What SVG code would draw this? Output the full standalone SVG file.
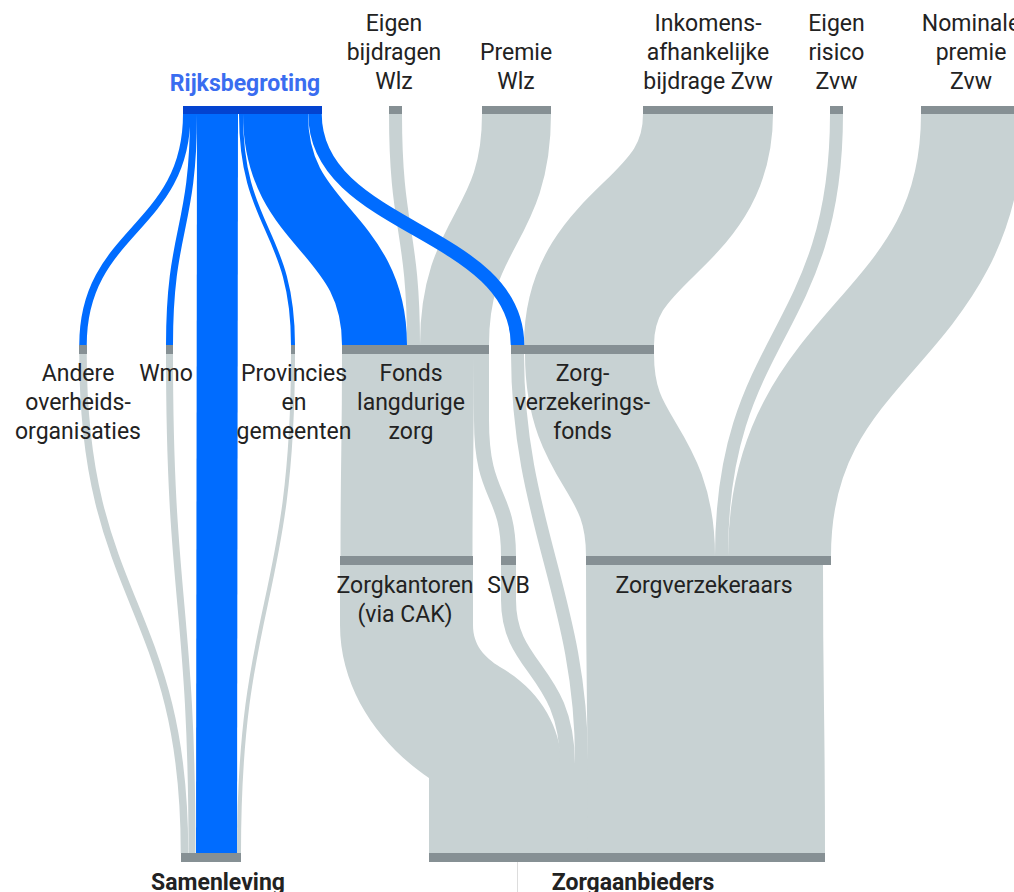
<svg xmlns="http://www.w3.org/2000/svg" width="1014" height="892" viewBox="0 0 1014 892">
<style>
.lk{fill:none;stroke:#c8d2d3}
.lf{fill:#c8d2d3;stroke:none}
.lb{fill:none;stroke:#006cff}
.nd{fill:#869094}
.t{font-family:Roboto,"Liberation Sans",sans-serif;font-size:23px;fill:#222;text-anchor:middle}
.b{font-weight:bold}
</style>
<rect width="1014" height="892" fill="#fff"/>
<g id="links">
<path class="lk" stroke-width="13" d="M395.5 114C395.5 229.5 413.5 229.5 413.5 345"/>
<path class="lk" stroke-width="69" d="M516.5 114C516.5 229.5 454.5 229.5 454.5 345"/>
<path class="lk" stroke-width="130" d="M708 114C708 229.5 589 229.5 589 345"/>
<path class="lk" stroke-width="13" d="M836.5 114C836.5 335 721.5 335 721.5 556"/>
<path class="lk" stroke-width="103" d="M972.5 114C972.5 335 779.5 335 779.5 556"/>
<path class="lk" stroke-width="132" d="M408 354C408 455 406.5 455 406.5 556"/>
<path class="lk" stroke-width="15" d="M481.5 354L481.5 420C481.5 500 508.5 490 508.5 556"/>
<path class="lk" stroke-width="129" d="M589.5 354C589.5 455 650.5 455 650.5 556"/>
<path class="lk" stroke-width="13" d="M517.5 354C517.5 520 581.5 600 581.5 760L581.5 853"/>
<path class="lk" stroke-width="7.5" d="M83 354C83 603.5 184.5 603.5 184.5 853"/>
<path class="lk" stroke-width="7" d="M169.5 354C169.5 603.5 192 603.5 192 853"/>
<path class="lk" stroke-width="4" d="M293 354C293 603.5 239 603.5 239 853"/>
<path class="lf" d="M340 565L340 625C340 690 380 745 429 778L429 853L562 853L562 765C560 725 540 690 500 667C484 657 473 645 473 625L473 565Z"/>
<path class="lk" stroke-width="15" d="M508.5 565L508.5 600C508.5 670 567.5 670 567.5 765L567.5 853"/>
<path class="lk" stroke-width="237" d="M704.5 565C704.5 709 706.5 709 706.5 853"/>
<path class="lb" stroke-width="7.5" d="M186.75 114C186.75 229.5 83 229.5 83 345"/>
<path class="lb" stroke-width="7" d="M193.5 114C193.5 229.5 169.5 229.5 169.5 345"/>
<path class="lb" stroke-width="41" d="M217.5 114C217.5 483.5 216.5 483.5 216.5 853"/>
<path class="lb" stroke-width="4" d="M241 114C241 229.5 293 229.5 293 345"/>
<path class="lb" stroke-width="65" d="M275.5 114C275.5 229.5 374.5 229.5 374.5 345"/>
<path class="lb" stroke-width="13.5" d="M315 114C315 229.5 517.5 229.5 517.5 345"/>
</g>
<line x1="517.5" y1="862" x2="517.5" y2="892" stroke="#dddddd" stroke-width="1"/>
<g id="rijksbegroting"><rect x="183" y="106" width="139" height="8" fill="#0343d0"/><text class="t b" x="245" y="91" style="fill:#3a6df0">Rijksbegroting</text></g>
<g id="eigen-bijdragen-wlz"><rect class="nd" x="389" y="106" width="13" height="8"/><text class="t"><tspan x="394" y="30.5">Eigen</tspan><tspan x="394" y="59.5">bijdragen</tspan><tspan x="394" y="88.5">Wlz</tspan></text></g>
<g id="premie-wlz"><rect class="nd" x="482" y="106" width="69" height="8"/><text class="t"><tspan x="516" y="59.5">Premie</tspan><tspan x="516" y="88.5">Wlz</tspan></text></g>
<g id="inkomensafhankelijke-bijdrage-zvw"><rect class="nd" x="643" y="106" width="130" height="8"/><text class="t"><tspan x="708" y="30.5">Inkomens-</tspan><tspan x="708" y="59.5">afhankelijke</tspan><tspan x="708" y="88.5">bijdrage Zvw</tspan></text></g>
<g id="eigen-risico-zvw"><rect class="nd" x="830" y="106" width="13" height="8"/><text class="t"><tspan x="836.5" y="30.5">Eigen</tspan><tspan x="836.5" y="59.5">risico</tspan><tspan x="836.5" y="88.5">Zvw</tspan></text></g>
<g id="nominale-premie-zvw"><rect class="nd" x="921" y="106" width="103" height="8"/><text class="t"><tspan x="971" y="30.5">Nominale</tspan><tspan x="971" y="59.5">premie</tspan><tspan x="971" y="88.5">Zvw</tspan></text></g>
<g id="andere-overheidsorganisaties"><rect class="nd" x="79" y="345" width="8" height="9"/><text class="t"><tspan x="78" y="381">Andere</tspan><tspan x="78" y="410">overheids-</tspan><tspan x="78" y="439">organisaties</tspan></text></g>
<g id="wmo"><rect class="nd" x="166" y="345" width="7" height="9"/><text class="t" x="166" y="381">Wmo</text></g>
<g id="provincies-en-gemeenten"><rect class="nd" x="291" y="345" width="4" height="9"/><text class="t"><tspan x="294" y="381">Provincies</tspan><tspan x="294" y="410">en</tspan><tspan x="294" y="439">gemeenten</tspan></text></g>
<g id="fonds-langdurige-zorg"><rect class="nd" x="342" y="345" width="147" height="9"/><text class="t"><tspan x="411" y="381">Fonds</tspan><tspan x="411" y="410">langdurige</tspan><tspan x="411" y="439">zorg</tspan></text></g>
<g id="zorgverzekeringsfonds"><rect class="nd" x="511" y="345" width="143" height="9"/><text class="t"><tspan x="582.5" y="381">Zorg-</tspan><tspan x="582.5" y="410">verzekerings-</tspan><tspan x="582.5" y="439">fonds</tspan></text></g>
<g id="zorgkantoren"><rect class="nd" x="340" y="556" width="133" height="9"/><text class="t"><tspan x="405" y="593">Zorgkantoren</tspan><tspan x="405" y="622">(via CAK)</tspan></text></g>
<g id="svb"><rect class="nd" x="501" y="556" width="15" height="9"/><text class="t" x="508.5" y="593">SVB</text></g>
<g id="zorgverzekeraars"><rect class="nd" x="586" y="556" width="245" height="9"/><text class="t" x="704" y="593">Zorgverzekeraars</text></g>
<g id="samenleving"><rect class="nd" x="181" y="853" width="60" height="9"/><text class="t b" x="218" y="889.5">Samenleving</text></g>
<g id="zorgaanbieders"><rect class="nd" x="429" y="853" width="396" height="9"/><text class="t b" x="633" y="889.5">Zorgaanbieders</text></g>
</svg>
